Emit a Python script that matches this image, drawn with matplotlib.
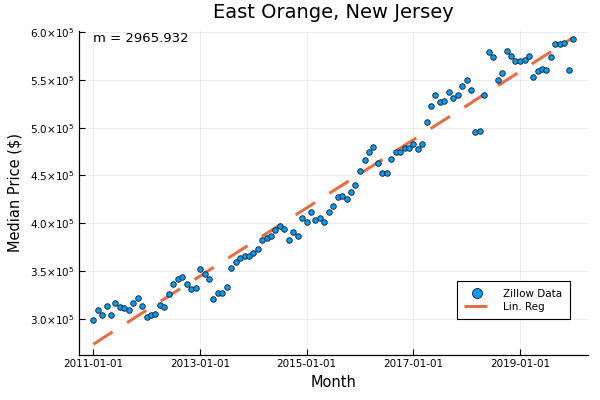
import numpy as np
import pandas as pd
import matplotlib
matplotlib.use("Agg")
import matplotlib.pyplot as plt
import matplotlib.dates as mdates
from matplotlib.ticker import FuncFormatter

# Zillow monthly median price, East Orange NJ, 2011-01 .. 2020-01
prices_2011 = [299e3, 309e3, 304e3, 314e3, 304e3, 317e3, 312e3, 311e3, 309e3, 317e3, 322e3, 314e3]
prices_2012 = [302e3, 304e3, 305e3, 315e3, 312e3, 326e3, 336e3, 342e3, 344e3, 337e3, 331e3, 332e3]
prices_2013 = [352e3, 347e3, 342e3, 321e3, 327e3, 327e3, 333e3, 353e3, 359e3, 364e3, 366e3, 366e3]
prices_2014 = [369e3, 373e3, 383e3, 385e3, 387e3, 393e3, 397e3, 394e3, 382e3, 391e3, 387e3, 406e3]
prices_2015 = [401e3, 412e3, 403e3, 406e3, 401e3, 412e3, 418e3, 427e3, 429e3, 425e3, 433e3, 440e3]
prices_2016 = [455e3, 466e3, 474e3, 480e3, 463e3, 453e3, 453e3, 467e3, 475e3, 474e3, 479e3, 479e3]
prices_2017 = [483e3, 478e3, 483e3, 506e3, 523e3, 534e3, 527e3, 528e3, 537e3, 531e3, 534e3, 543e3]
prices_2018 = [550e3, 539e3, 495e3, 496e3, 534e3, 579e3, 574e3, 550e3, 557e3, 580e3, 575e3, 570e3]
prices_2019 = [570e3, 571e3, 575e3, 553e3, 559e3, 561e3, 560e3, 574e3, 587e3, 587e3, 588e3, 560e3]
prices_2020 = [593e3]

prices = np.array(prices_2011 + prices_2012 + prices_2013 + prices_2014 + prices_2015
                  + prices_2016 + prices_2017 + prices_2018 + prices_2019 + prices_2020)
months = pd.date_range("2011-01-01", periods=len(prices), freq="MS")

title = "East Orange, New Jersey"
slope_label = "m = 2965.932"
x_label = "Month"
y_label = "Median Price ($)"
x_ticks = pd.to_datetime(["2011-01-01", "2013-01-01", "2015-01-01", "2017-01-01", "2019-01-01"])
y_ticks = [3.0e5, 3.5e5, 4.0e5, 4.5e5, 5.0e5, 5.5e5, 6.0e5]

# linear regression on month index
idx = np.arange(len(prices))
m, b = np.polyfit(idx, prices, 1)
fit = m * idx + b

blue = "#009af9"
orange = "#e26f46"

fig = plt.figure(figsize=(6, 4), dpi=100)
ax = fig.add_axes([79 / 600, 45 / 400, 508.7 / 600, 324 / 400])

ax.plot(months, prices, "o", ms=4, mfc=blue, mec="#1a1a1a", mew=0.6,
        label="Zillow Data", zorder=3)
ax.plot(months, fit, color=orange, lw=2.2, dashes=(7.5, 5.6), label="Lin. Reg", zorder=2)

ax.text(months[0], prices.max(), slope_label, ha="left", va="center", fontsize=9.5)

# Plots.jl-style 3% margins on the dates
span = months[-1] - months[0]
ax.set_xlim(months[0] - span * 0.03, months[-1] + span * 0.03)
ax.set_ylim(2.623e5, 6.01e5)

ax.set_xticks(x_ticks)
ax.xaxis.set_major_formatter(mdates.DateFormatter("%Y-%m-%d"))
ax.set_yticks(y_ticks)
ax.yaxis.set_major_formatter(FuncFormatter(lambda v, _: f"{v / 1e5:.1f}×10$^{{5}}$"))

ax.grid(True, color="black", alpha=0.1, lw=0.5)
ax.set_axisbelow(True)
for side in ["top", "right"]:
    ax.spines[side].set_visible(False)
for side in ["left", "bottom"]:
    ax.spines[side].set_linewidth(0.9)
ax.tick_params(direction="in", length=4, width=0.8, labelsize=7.5, pad=3)

ax.set_title(title, fontsize=14, pad=9)
ax.set_xlabel(x_label, fontsize=10.5, labelpad=4)
ax.set_ylabel(y_label, fontsize=10.5, labelpad=6)

leg = ax.legend(loc="lower right", bbox_to_anchor=(0.965, 0.111), borderaxespad=0,
                fontsize=7.5, fancybox=False, edgecolor="black", framealpha=1,
                markerscale=1.8, handlelength=2.6, borderpad=0.7, labelspacing=0.3,
                handletextpad=1.2)
leg.get_frame().set_linewidth(0.8)

fig.savefig("out.png", dpi=100)
print("slope", m)
